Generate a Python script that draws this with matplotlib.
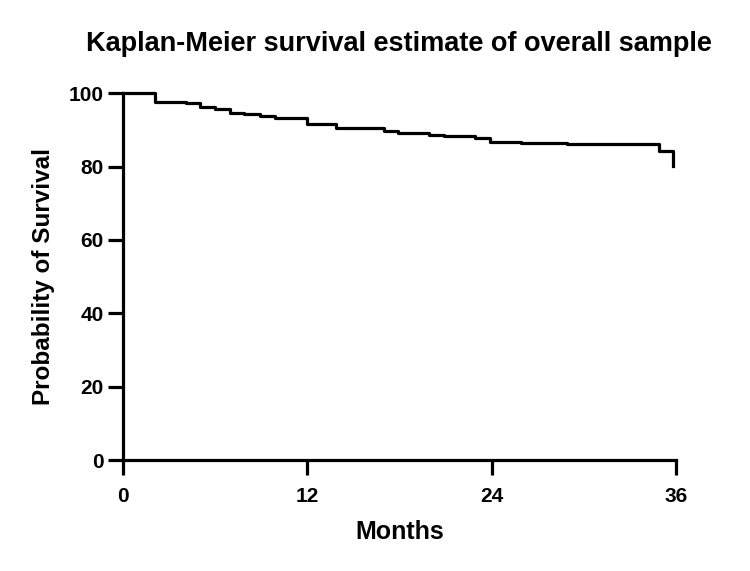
import matplotlib.pyplot as plt

# Kaplan-Meier step points (months, % surviving)
months = [0, 2.1, 4.1, 5.0, 6.0, 7.0, 7.9, 8.9, 9.9, 12.0, 13.9, 17.0, 17.9,
          19.9, 20.9, 22.9, 23.9, 25.9, 28.9, 34.9, 35.85]
survival = [100, 97.6, 97.2, 96.3, 95.6, 94.7, 94.2, 93.7, 93.1, 91.6, 90.4, 89.8, 89.0,
            88.7, 88.3, 87.8, 86.7, 86.4, 86.0, 84.3, 80.2]

x_ticks = [0, 12, 24, 36]
y_ticks = [0, 20, 40, 60, 80, 100]

plt.rcParams['font.family'] = ['Liberation Sans', 'DejaVu Sans']
plt.rcParams['font.weight'] = 'bold'

fig = plt.figure(figsize=(7.5, 5.71), dpi=100)
ax = fig.add_axes([0.164, 0.194, 0.737, 0.643])

ax.plot(months, survival, drawstyle='steps-post', color='black', lw=2.3, clip_on=False, zorder=3)

ax.set_xlim(0, 36)
ax.set_ylim(0, 100)
ax.set_xticks(x_ticks)
ax.set_yticks(y_ticks)

for side in ['top', 'right']:
    ax.spines[side].set_visible(False)
for side in ['left', 'bottom']:
    ax.spines[side].set_linewidth(2.3)

ax.tick_params(axis='both', length=11, width=2.3, labelsize=15)
ax.tick_params(axis='x', pad=8)
ax.tick_params(axis='y', pad=3)
for lab in ax.get_xticklabels() + ax.get_yticklabels():
    lab.set_fontweight('bold')

ax.set_xlabel('Months', fontsize=18, fontweight='bold', labelpad=10)
ax.set_ylabel('Probability of Survival', fontsize=17.5, fontweight='bold', labelpad=10)
ax.set_title('Kaplan-Meier survival estimate of overall sample', fontsize=19.5,
             fontweight='bold', pad=30)

fig.savefig('out.png', dpi=100)
